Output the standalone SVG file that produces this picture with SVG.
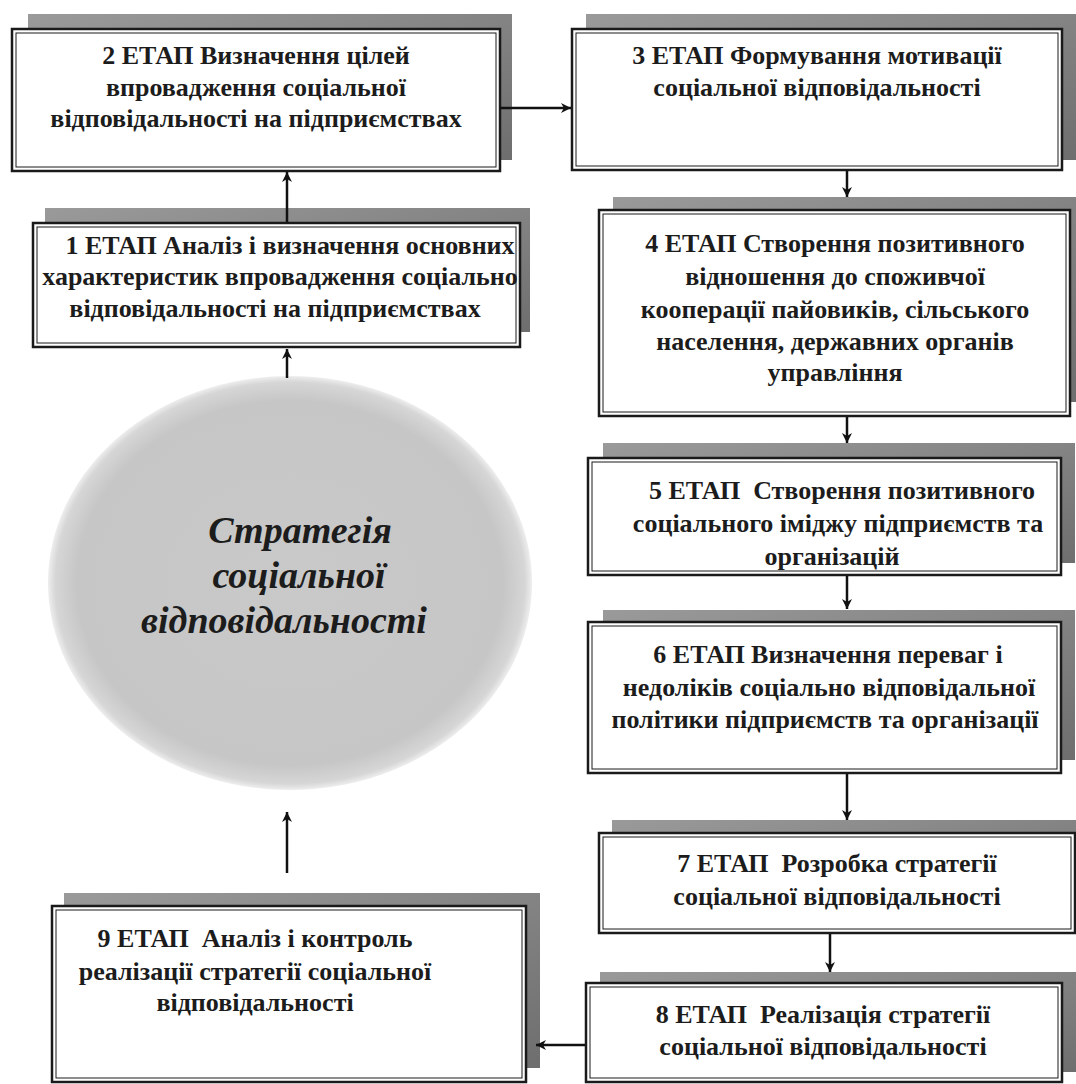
<svg xmlns="http://www.w3.org/2000/svg" width="1076" height="1084" viewBox="0 0 1076 1084">
<style>
.shadow{fill:url(#sh);}
.outer{fill:#ffffff;stroke:#1a1a1a;stroke-width:2.5;}
.inner{fill:none;stroke:#1a1a1a;stroke-width:1;}
.t{font-family:"Liberation Serif","Times New Roman",serif;font-weight:700;font-size:26px;fill:#1c1c1c;text-anchor:middle;white-space:pre;}
.c{font-family:"Liberation Serif","Times New Roman",serif;font-weight:700;font-style:italic;font-size:38px;fill:#1c1c1c;text-anchor:middle;}
.conn{stroke:#111111;stroke-width:2.5;fill:none;marker-end:url(#ah);}
</style>
<defs>
<linearGradient id="sh" x1="0" y1="0" x2="1" y2="1">
<stop offset="0" stop-color="#9a9a9a"/>
<stop offset="1" stop-color="#6e6e6e"/>
</linearGradient>
<radialGradient id="cg" cx="0.5" cy="0.5" r="0.5">
<stop offset="0" stop-color="#c9c9c9"/>
<stop offset="0.88" stop-color="#c6c6c6"/>
<stop offset="0.97" stop-color="#d6d6d6"/>
<stop offset="1" stop-color="#eeeeee"/>
</radialGradient>
<marker id="ah" viewBox="0 0 10 10" refX="10" refY="5" markerWidth="4.6" markerHeight="4" orient="auto" markerUnits="strokeWidth">
<path d="M0,0 L10,5 L0,10 L3,5 z" fill="#111111"/>
</marker>
</defs>
<rect width="1076" height="1084" fill="#ffffff"/>

<g id="circle">
<ellipse cx="290" cy="583" rx="242" ry="207" fill="url(#cg)"/>
<text class="c" x="300" y="543">Стратегія</text>
<text class="c" x="299" y="588">соціальної</text>
<text class="c" x="284" y="633">відповідальності</text>
</g>

<g id="stage2">
<rect class="shadow" x="28" y="14" width="484" height="146"/>
<rect class="outer" x="12" y="29" width="488" height="142"/>
<rect class="inner" x="16" y="33" width="480" height="134"/>
<text class="t" x="256" y="64">2 ЕТАП Визначення цілей</text>
<text class="t" x="256" y="96">впровадження соціальної</text>
<text class="t" x="256" y="127">відповідальності на підприємствах</text>
</g>

<g id="stage3">
<rect class="shadow" x="586" y="14" width="490" height="146"/>
<rect class="outer" x="572" y="29" width="490" height="141"/>
<rect class="inner" x="576" y="33" width="482" height="133"/>
<text class="t" x="817" y="64">3 ЕТАП Формування мотивації</text>
<text class="t" x="817" y="96">соціальної відповідальності</text>
</g>

<g id="stage1">
<rect class="shadow" x="45" y="208" width="485" height="124"/>
<rect class="outer" x="33" y="223" width="487" height="124"/>
<rect class="inner" x="37" y="227" width="479" height="116"/>
<text class="t" x="290" y="254">1 ЕТАП Аналіз і визначення основних</text>
<text class="t" x="280" y="285">характеристик впровадження соціально</text>
<text class="t" x="275" y="317">відповідальності на підприємствах</text>
</g>

<g id="stage4">
<rect class="shadow" x="613" y="197" width="463" height="205"/>
<rect class="outer" x="599" y="210" width="471" height="206"/>
<rect class="inner" x="603" y="214" width="463" height="198"/>
<text class="t" x="835" y="252">4 ЕТАП Створення позитивного</text>
<text class="t" x="835" y="285">відношення до споживчої</text>
<text class="t" x="835" y="318">кооперації пайовиків, сільського</text>
<text class="t" x="835" y="350">населення, державних органів</text>
<text class="t" x="835" y="381">управління</text>
</g>

<g id="stage5">
<rect class="shadow" x="603" y="443" width="472" height="120"/>
<rect class="outer" x="588" y="458" width="473" height="117"/>
<rect class="inner" x="592" y="462" width="465" height="109"/>
<text class="t" x="842" y="499">5 ЕТАП  Створення позитивного</text>
<text class="t" x="838" y="532">соціального іміджу підприємств та</text>
<text class="t" x="832" y="565">організацій</text>
</g>

<g id="stage6">
<rect class="shadow" x="603" y="610" width="472" height="150"/>
<rect class="outer" x="588" y="622" width="473" height="151"/>
<rect class="inner" x="592" y="626" width="465" height="143"/>
<text class="t" x="828" y="663">6 ЕТАП Визначення переваг і</text>
<text class="t" x="829" y="696">недоліків соціально відповідальної</text>
<text class="t" x="825" y="728">політики підприємств та організації</text>
</g>

<g id="stage7">
<rect class="shadow" x="612" y="820" width="464" height="100"/>
<rect class="outer" x="599" y="833" width="476" height="100"/>
<rect class="inner" x="603" y="837" width="468" height="92"/>
<text class="t" x="837" y="872">7 ЕТАП  Розробка стратегії</text>
<text class="t" x="837" y="905">соціальної відповідальності</text>
</g>

<g id="stage8">
<rect class="shadow" x="600" y="972" width="476" height="100"/>
<rect class="outer" x="586" y="983" width="476" height="99"/>
<rect class="inner" x="590" y="987" width="468" height="91"/>
<text class="t" x="823" y="1023">8 ЕТАП  Реалізація стратегії</text>
<text class="t" x="823" y="1055">соціальної відповідальності</text>
</g>

<g id="stage9">
<rect class="shadow" x="64" y="893" width="476" height="175"/>
<rect class="outer" x="52" y="906" width="474" height="176"/>
<rect class="inner" x="56" y="910" width="466" height="168"/>
<text class="t" x="255" y="947">9 ЕТАП  Аналіз і контроль</text>
<text class="t" x="255" y="980">реалізації стратегії соціальної</text>
<text class="t" x="255" y="1011">відповідальності</text>
</g>

<g id="connectors">
<line class="conn" x1="500" y1="108" x2="571" y2="108"/>
<line class="conn" x1="287" y1="222" x2="287" y2="172"/>
<line class="conn" x1="287" y1="378" x2="287" y2="349"/>
<line class="conn" x1="287" y1="873" x2="287" y2="812"/>
<line class="conn" x1="847" y1="171" x2="847" y2="197"/>
<line class="conn" x1="847" y1="417" x2="847" y2="443"/>
<line class="conn" x1="847" y1="576" x2="847" y2="609"/>
<line class="conn" x1="847" y1="774" x2="847" y2="820"/>
<line class="conn" x1="830" y1="934" x2="830" y2="972"/>
<line class="conn" x1="585" y1="1045" x2="536" y2="1045"/>
</g>
</svg>
